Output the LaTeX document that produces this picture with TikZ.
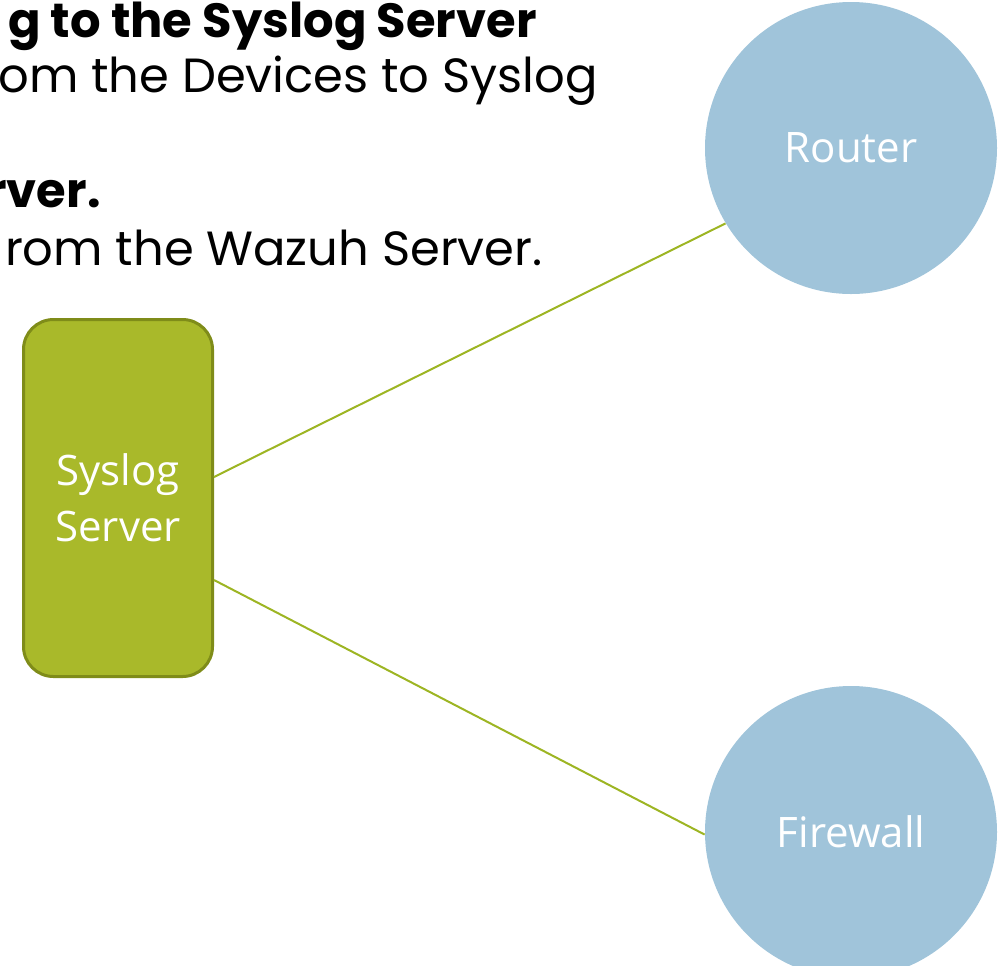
\documentclass[tikz,border=0pt]{standalone}
\usepackage{fontspec}
\setmainfont{Poppins}
\newfontfamily\labelfont{Open Sans}
\usetikzlibrary{positioning}
\usetikzlibrary{calc}
\definecolor{syslogfill}{RGB}{169,185,42}
\definecolor{syslogedge}{RGB}{127,140,25}
\definecolor{devicefill}{RGB}{160,196,218}
\definecolor{linkcolor}{RGB}{157,181,35}

\begin{document}
\begin{tikzpicture}[x=0.5pt,y=-0.5pt,
                    server/.style={draw=syslogedge, line width=1.5pt, fill=syslogfill,
                        rounded corners=15pt, minimum width=94.5pt, minimum height=178.5pt,
                        text=white, align=center, font=\labelfont\fontsize{21}{28}\selectfont},
                    device/.style={circle, fill=devicefill, minimum size=146pt, inner sep=0pt,
                        text=white, font=\labelfont\fontsize{21}{28}\selectfont},
                    link/.style={draw=linkcolor, line width=1pt},
                    slide/.style={anchor=base east, inner sep=0pt, font=\fontsize{24}{28}\selectfont}]

    \clip (0,0) rectangle (1007,965);

    % slide text
    \node[slide] (title) at (537,37) {\textbf{g to the Syslog Server}};
    \node[slide] (devline) at (598,92) {om the Devices to Syslog};
    \node[slide] (wazuhtitle) at (101,207) {\textbf{rver.}};
    \node[slide] (wazuhline) at (543,265) {rom the Wazuh Server.};

    % diagram
    \node[server] (syslog) at (118,498) {Syslog\\Server};
    \node[device] (router) at (851,148) {Router};
    \node[device] (firewall) at (851,832) {Firewall};

    \draw[link] ([yshift=10.5pt]syslog.east) -- (router.211);
    \draw[link] ([yshift=-41pt]syslog.east) -- (firewall.181);
\end{tikzpicture}
\end{document}
